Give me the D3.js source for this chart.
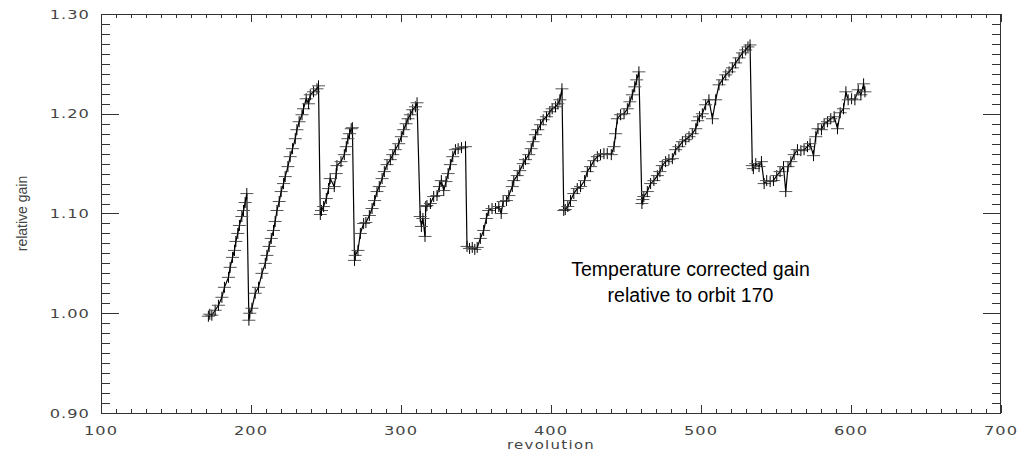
<!DOCTYPE html>
<html>
<head>
<meta charset="utf-8">
<script src="https://cdn.jsdelivr.net/npm/d3@7"></script>
<style>
  html, body { margin: 0; padding: 0; background: #fff; }
  svg { display: block; }
</style>
</head>
<body>
<svg id="chart"></svg>
<script>
// revolution (orbit) numbers and temperature corrected relative gain
const revolution = [
  171.6, 172.5, 173.9, 176.1, 178.3, 180.6, 182.3, 185.0, 186.1, 187.7, 189.0, 189.9, 191.2, 192.3, 193.9, 195.0, 196.1, 197.2,
  198.6, 199.2, 200.6, 202.8, 205.0, 207.3, 209.5, 210.6, 212.1, 213.5, 215.0, 216.1, 217.3, 218.8, 220.1, 221.7, 222.8, 224.6,
  226.1, 227.7, 229.5, 230.6, 232.1, 234.0, 235.0, 236.8, 238.4, 239.5, 241.7, 244.0, 245.0,
  246.2, 247.0, 248.4, 250.2, 251.7, 252.8, 255.5, 256.8, 257.3, 260.0, 262.2, 263.5, 264.6, 265.7, 266.8, 267.6,
  269.0, 269.5, 271.3, 272.9, 275.1, 276.6, 278.9, 280.7, 282.4, 284.0, 285.5, 287.4, 288.9, 290.7, 292.9, 294.5, 296.2, 298.5,
  300.2, 301.8, 303.4, 304.7, 306.2, 307.8, 309.6, 310.7,
  312.8, 313.6, 314.6, 316.0, 316.5, 317.3, 319.6, 321.8, 324.0, 325.6, 326.9, 328.5, 330.0, 331.4, 332.9, 334.5, 336.3, 338.1,
  340.3, 343.0,
  344.0, 345.7, 347.5, 349.2, 350.8, 352.9, 355.1, 356.9, 358.5, 360.7, 363.0, 365.2, 366.8, 368.1, 370.3, 371.9, 374.2, 375.2,
  377.5, 379.2, 381.5, 383.0, 385.2, 386.8, 388.1, 389.7, 391.2, 393.0, 394.8, 397.0, 399.2, 400.8, 403.0, 404.6, 405.9, 407.3,
  408.5, 409.5, 411.2, 413.0, 415.2, 417.5, 419.7, 422.4, 424.2, 426.4, 428.6, 430.9, 433.0, 435.3, 437.5, 440.2, 442.0, 443.1,
  444.2, 446.4, 448.7, 450.9, 452.6, 454.2, 455.8, 457.1, 458.6,
  460.6, 461.2, 461.9, 464.2, 466.4, 468.6, 470.9, 472.6, 474.2, 476.4, 478.6, 480.9, 483.1, 485.3, 487.6, 489.8, 492.0, 494.2,
  496.5, 497.8, 499.0, 500.9, 503.1, 505.3, 507.6, 509.8, 512.0, 514.3, 516.5, 518.7, 520.9, 523.1, 525.4, 527.6, 529.8, 531.3,
  532.7,
  534.2, 534.9, 536.5, 538.7, 540.3, 542.1, 543.8, 546.1, 548.3, 550.5, 552.7, 555.0, 556.5, 558.0, 559.9, 562.1, 564.3, 566.6,
  568.7, 571.0, 572.7, 575.0, 576.5, 578.0, 580.3, 582.1, 584.3, 586.5, 588.8, 591.0, 592.8, 595.0, 596.6, 598.1, 600.4, 602.6,
  604.8, 606.6, 608.4, 609.3
];
const gain = [
  0.997, 0.999, 0.998, 1.003, 1.008, 1.016, 1.026, 1.036, 1.046, 1.056, 1.063, 1.072, 1.080, 1.088, 1.097, 1.103, 1.111, 1.120,
  0.993, 1.000, 1.005, 1.020, 1.026, 1.040, 1.050, 1.058, 1.067, 1.075, 1.083, 1.092, 1.103, 1.112, 1.122, 1.130, 1.137, 1.147,
  1.157, 1.165, 1.175, 1.184, 1.192, 1.199, 1.205, 1.215, 1.210, 1.219, 1.222, 1.225, 1.228,
  1.099, 1.103, 1.107, 1.115, 1.125, 1.135, 1.127, 1.140, 1.148, 1.152, 1.159, 1.167, 1.175, 1.180, 1.185, 1.186,
  1.053, 1.058, 1.063, 1.080, 1.090, 1.091, 1.098, 1.105, 1.113, 1.122, 1.127, 1.135, 1.142, 1.149, 1.154, 1.159, 1.164, 1.170,
  1.177, 1.184, 1.190, 1.195, 1.199, 1.204, 1.207, 1.211,
  1.097, 1.087, 1.095, 1.077, 1.107, 1.108, 1.110, 1.117, 1.118, 1.127, 1.133, 1.123, 1.132, 1.140, 1.149, 1.157, 1.164, 1.165,
  1.166, 1.167,
  1.067, 1.065, 1.066, 1.064, 1.066, 1.075, 1.083, 1.095, 1.103, 1.105, 1.105, 1.107, 1.100, 1.112, 1.113, 1.118, 1.127, 1.133,
  1.138, 1.143, 1.150, 1.154, 1.159, 1.165, 1.172, 1.179, 1.184, 1.189, 1.194, 1.197, 1.202, 1.205, 1.207, 1.210, 1.214, 1.225,
  1.103, 1.104, 1.107, 1.113, 1.120, 1.125, 1.127, 1.133, 1.142, 1.147, 1.153, 1.157, 1.159, 1.160, 1.160, 1.159, 1.167, 1.180,
  1.195, 1.199, 1.200, 1.205, 1.212, 1.219, 1.227, 1.234, 1.242,
  1.110, 1.114, 1.117, 1.122, 1.130, 1.133, 1.138, 1.142, 1.148, 1.152, 1.154, 1.155, 1.164, 1.167, 1.172, 1.174, 1.177, 1.180,
  1.185, 1.193, 1.197, 1.200, 1.209, 1.214, 1.195, 1.214, 1.229, 1.234, 1.239, 1.242, 1.246, 1.251, 1.256, 1.261, 1.264, 1.267,
  1.269,
  1.148, 1.145, 1.150, 1.147, 1.152, 1.130, 1.133, 1.132, 1.133, 1.138, 1.142, 1.147, 1.122, 1.147, 1.152, 1.159, 1.164, 1.163,
  1.164, 1.167, 1.170, 1.158, 1.177, 1.185, 1.184, 1.190, 1.192, 1.195, 1.197, 1.185, 1.201, 1.205, 1.222, 1.214, 1.215, 1.214,
  1.224, 1.219, 1.230, 1.222
];

const xTicks = [100, 200, 300, 400, 500, 600, 700];
const yTicks = [0.90, 1.00, 1.10, 1.20, 1.30];
const noteLines = ['Temperature corrected gain', 'relative to orbit 170'];

const W = 1026, H = 456;
const margin = { top: 14, right: 25, bottom: 43, left: 101 };
const width = W - margin.left - margin.right;
const height = H - margin.top - margin.bottom;

const svg = d3.select('#chart')
  .attr('width', W)
  .attr('height', H)
  .append('g')
  .attr('transform', `translate(${margin.left}, ${margin.top})`);

const xScale = d3.scaleLinear().domain([100, 700]).range([0, width]);
const yScale = d3.scaleLinear().domain([0.9, 1.3]).range([height, 0]);

const axisColor = '#333';
const labelFont = '"DejaVu Sans", sans-serif';

// minor + major ticks, IDL style (inward on all four sides)
const xMinor = d3.range(100, 701, 10);
const yMinor = d3.range(90, 131).map(d => d / 100);

const ticks = svg.append('g').attr('stroke', axisColor).attr('stroke-width', 1);

ticks.selectAll('.xb').data(xMinor).enter().append('line')
  .attr('x1', d => Math.round(xScale(d)) + 0.5).attr('x2', d => Math.round(xScale(d)) + 0.5)
  .attr('y1', height).attr('y2', d => height - (d % 100 === 0 ? 8 : 4));
ticks.selectAll('.xt').data(xMinor).enter().append('line')
  .attr('x1', d => Math.round(xScale(d)) + 0.5).attr('x2', d => Math.round(xScale(d)) + 0.5)
  .attr('y1', 0).attr('y2', d => (d % 100 === 0 ? 8 : 4));
ticks.selectAll('.yl').data(yMinor).enter().append('line')
  .attr('y1', d => Math.round(yScale(d)) + 0.5).attr('y2', d => Math.round(yScale(d)) + 0.5)
  .attr('x1', 0).attr('x2', (d, i) => (i % 10 === 0 ? 18 : 9));
ticks.selectAll('.yr').data(yMinor).enter().append('line')
  .attr('y1', d => Math.round(yScale(d)) + 0.5).attr('y2', d => Math.round(yScale(d)) + 0.5)
  .attr('x1', width).attr('x2', (d, i) => width - (i % 10 === 0 ? 18 : 9));

svg.append('rect')
  .attr('x', 0.5).attr('y', 0.5)
  .attr('width', width - 1).attr('height', height)
  .attr('fill', 'none')
  .attr('stroke', axisColor);

// tick labels (wide, light font)
svg.selectAll('.xlab').data(xTicks).enter().append('text')
  .attr('transform', d => `translate(${xScale(d)}, ${height + 22}) scale(1.3, 1)`)
  .attr('text-anchor', 'middle')
  .attr('font-family', labelFont)
  .attr('font-size', 12.5)
  .attr('letter-spacing', 0.8)
  .attr('fill', '#444')
  .text(d => d);

svg.selectAll('.ylab').data(yTicks).enter().append('text')
  .attr('transform', d => `translate(-11, ${yScale(d) + 4.5}) scale(1.3, 1)`)
  .attr('text-anchor', 'end')
  .attr('font-family', labelFont)
  .attr('font-size', 12.5)
  .attr('letter-spacing', 0.8)
  .attr('fill', '#444')
  .text(d => d.toFixed(2));

svg.append('text')
  .attr('transform', `translate(${width / 2}, ${height + 36}) scale(1.3, 1)`)
  .attr('text-anchor', 'middle')
  .attr('font-family', labelFont)
  .attr('font-size', 11.5)
  .attr('letter-spacing', 1)
  .attr('fill', '#444')
  .text('revolution');

svg.append('text')
  .attr('transform', `translate(-74, ${height / 2}) rotate(-90)`)
  .attr('text-anchor', 'middle')
  .attr('font-family', '"Liberation Sans Narrow", "Arial Narrow", sans-serif')
  .attr('font-size', 14)
  .attr('fill', '#444')
  .text('relative gain');

// data: connecting line + plus symbols
const points = revolution.map((r, i) => ({ rev: r, gain: gain[i] }));

svg.append('path')
  .datum(points)
  .attr('fill', 'none')
  .attr('stroke', '#000')
  .attr('stroke-width', 1.2)
  .attr('d', d3.line().x(d => xScale(d.rev)).y(d => yScale(d.gain)));

const marks = svg.selectAll('.pt')
  .data(points)
  .enter()
  .append('g')
  .attr('class', 'pt')
  .attr('transform', d => `translate(${xScale(d.rev)}, ${yScale(d.gain)})`);

marks.append('path')
  .attr('d', 'M-6.5,0H6.5')
  .attr('stroke', '#555')
  .attr('stroke-width', 1);

marks.append('path')
  .attr('d', 'M0,-5.5V5.5')
  .attr('stroke', '#000')
  .attr('stroke-width', 1);

// annotation
const note = svg.append('text')
  .attr('font-family', '"Liberation Sans", Arial, sans-serif')
  .attr('font-size', 19.5)
  .attr('fill', '#000')
  .attr('text-anchor', 'middle');
note.selectAll('tspan').data(noteLines).enter().append('tspan')
  .attr('x', xScale(493))
  .attr('y', (d, i) => 262 + i * 26)
  .text(d => d);
</script>
</body>
</html>
